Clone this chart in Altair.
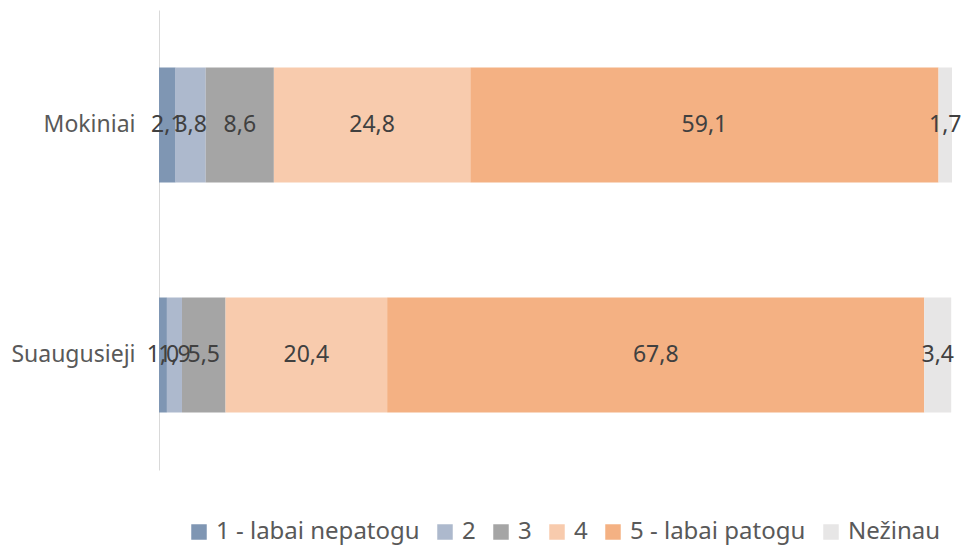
import altair as alt
import pandas as pd

groups = ["Mokiniai", "Suaugusieji"]
categories = ["1 - labai nepatogu", "2", "3", "4", "5 - labai patogu", "Nežinau"]
colors = ["#7f96b3", "#adb9cd", "#a5a5a5", "#f8cbad", "#f4b183", "#e7e6e6"]
mokiniai = [2.1, 3.8, 8.6, 24.8, 59.1, 1.7]
suaugusieji = [1.0, 1.9, 5.5, 20.4, 67.8, 3.4]

rows = []
for g, vals in zip(groups, [mokiniai, suaugusieji]):
    for i, (c, v) in enumerate(zip(categories, vals)):
        rows.append({"grupe": g, "kat": c, "ord": i, "v": v})
df = pd.DataFrame(rows)

FONT = "Noto Sans"
xscale = alt.Scale(domain=[0, 100.1], nice=False, zero=True)
yscale = alt.Scale(domain=groups, paddingInner=0.5, paddingOuter=0.25)

base = alt.Chart(df).transform_stack(
    stack="v", groupby=["grupe"], as_=["x0", "x1"], sort=[alt.SortField("ord")]
).transform_calculate(
    mid="(datum.x0 + datum.x1) / 2",
    lbl="replace(format(datum.v, '.1f'), '.', ',')",
)

bars = base.mark_bar().encode(
    x=alt.X("x0:Q", scale=xscale, axis=None),
    x2="x1:Q",
    y=alt.Y("grupe:N", scale=yscale, sort=groups,
            axis=alt.Axis(title=None, ticks=False, domainColor="#d9d9d9",
                          labelFont=FONT, labelFontSize=23, labelColor="#595959",
                          labelPadding=24, grid=False)),
    color=alt.Color("kat:N", scale=alt.Scale(domain=categories, range=colors),
                    sort=categories,
                    legend=alt.Legend(title=None, orient="none", direction="horizontal",
                                      legendX=28, legendY=510,
                                      symbolType="square", symbolSize=240,
                                      symbolStrokeWidth=0,
                                      labelFont=FONT, labelFontSize=24,
                                      labelColor="#595959", columnPadding=13,
                                      labelOffset=5, labelLimit=400)),
    order=alt.Order("ord:Q"),
)

text = base.mark_text(font=FONT, fontSize=23, color="#404040").encode(
    x=alt.X("mid:Q", scale=xscale),
    y=alt.Y("grupe:N", scale=yscale, sort=groups),
    text="lbl:N",
)

chart = alt.layer(bars, text).properties(
    width=793, height=460,
    autosize=alt.AutoSizeParams(type="none"),
    padding={"left": 159, "top": 10, "right": 12, "bottom": 76},
    background="white",
).configure_view(strokeWidth=0, stroke=None)

chart.save("out.html", embed_options={"renderer": "svg", "actions": False})
